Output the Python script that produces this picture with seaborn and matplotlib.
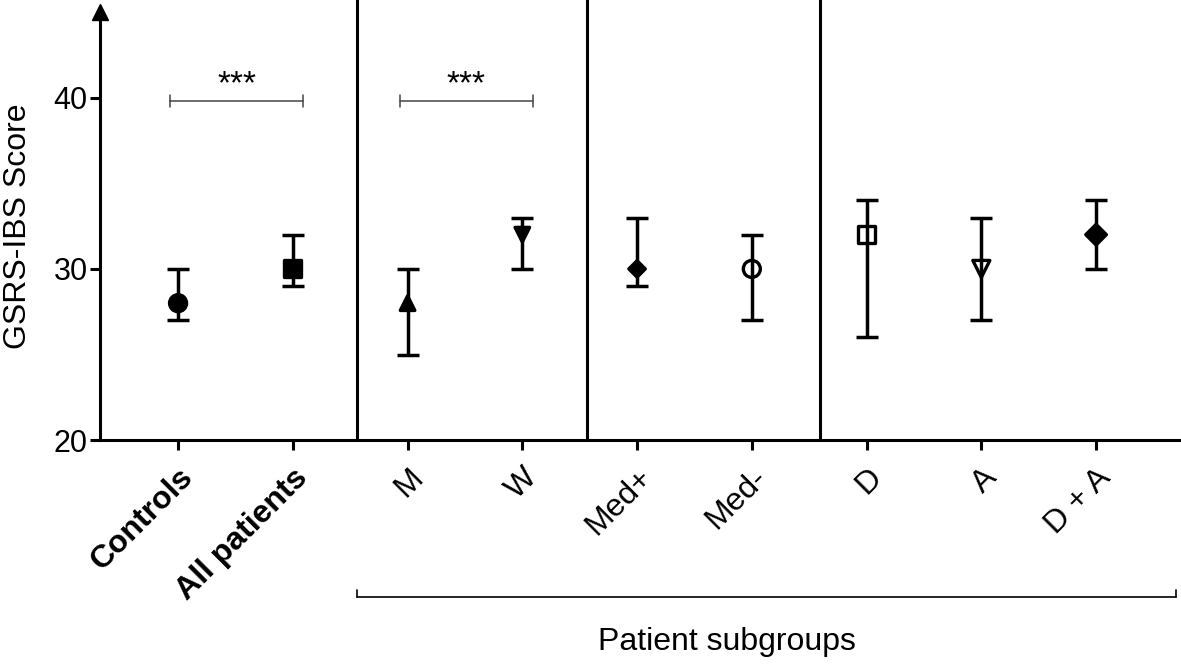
import matplotlib
matplotlib.use("Agg")
import matplotlib.pyplot as plt
import seaborn as sns
import pandas as pd
import numpy as np

# data (median with range)
groups = ["Controls", "All patients", "M", "W", "Med+", "Med-", "D", "A", "D + A"]
medians = [28, 30, 28, 32, 30, 30, 32, 30, 32]
lows = [27, 29, 25, 30, 29, 27, 26, 27, 30]
highs = [30, 32, 30, 33, 33, 32, 34, 33, 34]
marker_shapes = ["o", "s", "^", "v", "D", "o", "s", "v", "D"]
marker_sizes = [150, 150, 110, 110, 70, 150, 150, 150, 110]
open_marker = [False, False, False, False, False, True, True, True, False]

sig_pairs = [(0, 1), (2, 3)]
sig_labels = ["***", "***"]
separators = [1.56, 3.56, 5.59]
subgroup_span = (1.56, 8.7)
subgroup_label = "Patient subgroups"

df = pd.DataFrame({"group": groups, "median": medians, "low": lows, "high": highs})
df["pos"] = np.arange(len(groups))

sns.set_style("ticks")
plt.rcParams["font.family"] = ["Liberation Sans", "DejaVu Sans"]
plt.rcParams["text.color"] = "black"
plt.rcParams["axes.labelcolor"] = "black"
plt.rcParams["xtick.color"] = "black"
plt.rcParams["ytick.color"] = "black"

fig = plt.figure(figsize=(11.81, 6.65), dpi=100)
ax = fig.add_axes([0.0847, 0.338, 0.9153, 0.644])

# range whiskers
ax.errorbar(df["pos"], df["median"],
            yerr=[df["median"] - df["low"], df["high"] - df["median"]],
            fmt="none", ecolor="black", elinewidth=2.5, capsize=8, capthick=2.5, zorder=2)

# markers
sns.scatterplot(data=df, x="pos", y="median", style="group", size="group",
                markers=dict(zip(groups, marker_shapes)),
                sizes=dict(zip(groups, marker_sizes)),
                color="black", edgecolor="black", linewidth=2.4,
                legend=False, ax=ax, zorder=3)
coll = ax.collections[-1]
fc = [(0, 0, 0, 0) if o else (0, 0, 0, 1) for o in open_marker]
coll.set_facecolors(fc)

# vertical separators
for s in separators:
    ax.axvline(s, ymax=1.03, color="black", lw=2.2, zorder=1, clip_on=False)

# significance brackets
for (a, b), lab in zip(sig_pairs, sig_labels):
    x0, x1 = a - 0.07, b + 0.09
    y = 39.8
    ax.plot([x0, x1], [y, y], color="#444444", lw=1.1)
    ax.plot([x0, x0], [y - 0.35, y + 0.35], color="#444444", lw=1.1)
    ax.plot([x1, x1], [y - 0.35, y + 0.35], color="#444444", lw=1.1)
    ax.text((x0 + x1) / 2, y + 0.05, lab, ha="center", va="bottom", fontsize=24)

ax.set_xlim(-0.68, 8.74)
ax.set_ylim(20, 45)
ax.set_yticks([20, 30, 40])
ax.set_xticks(df["pos"])
ax.set_xticklabels(groups, rotation=45, ha="right", rotation_mode="anchor")
for lbl in ax.get_xticklabels()[:2]:
    lbl.set_fontweight("bold")
ax.tick_params(axis="y", labelsize=22, width=2.2, length=7, pad=2)
ax.tick_params(axis="x", labelsize=23, width=2.2, length=7, pad=9)
ax.set_xlabel("")
ax.set_ylabel("GSRS-IBS Score", fontsize=23)
ax.yaxis.set_label_coords(-0.062, 0.5)

sns.despine(ax=ax)
for sp in ["left", "bottom"]:
    ax.spines[sp].set_linewidth(2.2)
    ax.spines[sp].set_color("black")

# arrow head on y axis
ax.plot(0, 1.0, marker="^", color="black", markersize=12, transform=ax.transAxes,
        clip_on=False)

# bottom bracket for patient subgroups
tr = ax.get_xaxis_transform()
xa, xb = subgroup_span
ax.plot([xa, xb], [-0.367, -0.367], color="black", lw=1.2, transform=tr, clip_on=False)
ax.plot([xa, xa], [-0.367, -0.35], color="black", lw=1.2, transform=tr, clip_on=False)
ax.plot([xb, xb], [-0.367, -0.35], color="black", lw=1.2, transform=tr, clip_on=False)
ax.text((xa + xb) / 2 - 0.35, -0.47, subgroup_label, ha="center", va="center",
        fontsize=23, transform=tr)

fig.savefig("out.png", dpi=100)
